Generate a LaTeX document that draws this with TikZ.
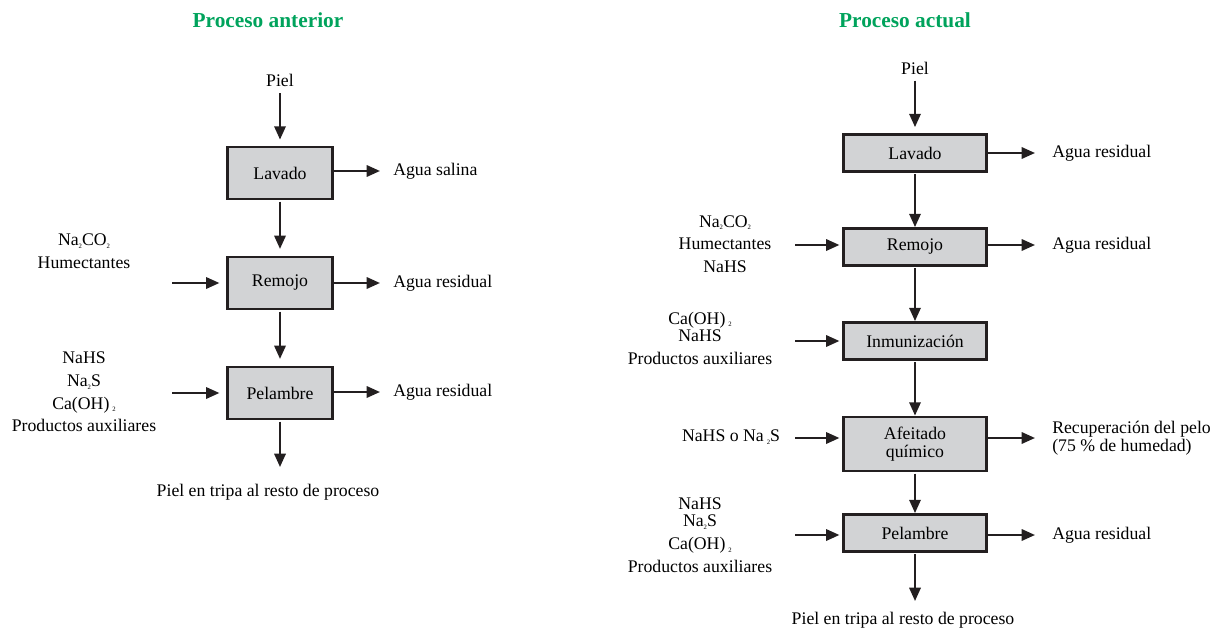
\documentclass[tikz,border=0pt]{standalone}
\usepackage{fontspec}
\setmainfont{Liberation Serif}
\usepackage{tikz}
\usetikzlibrary{positioning, arrows.meta}
\definecolor{titlegreen}{RGB}{0,163,92}
\definecolor{boxgray}{RGB}{210,211,213}
\definecolor{linegray}{RGB}{35,31,32}
\newcommand{\chemsub}[1]{\raisebox{-0.35ex}{\fontsize{5}{5}\selectfont #1}}

\begin{document}
\begin{tikzpicture}[x=0.75pt, y=-0.75pt,
    txt/.style={font=\fontsize{13.3}{17}\selectfont, inner sep=0pt, align=center},
    ttl/.style={font=\fontsize{16}{18}\selectfont\bfseries, text=titlegreen, inner sep=0pt},
    stage/.style={draw=linegray, fill=boxgray, line width=2.1pt, font=\fontsize{13.3}{15}\selectfont, align=center, inner sep=0pt},
    stageA/.style={stage, minimum width=78.75pt, minimum height=39pt},
    stageB/.style={stage, minimum width=107.25pt, minimum height=27.75pt},
    flow/.style={draw=linegray, line width=1.7pt, -{Triangle[length=10pt, width=8.5pt]}}]

    \useasboundingbox (0,0) rectangle (1213,631);

    % proceso anterior
    \node[ttl] (titA) at (268,20) {Proceso anterior};
    \node[txt] (pielA) at (280,80) {Piel};
    \node[stageA] (lavA) at (280,173) {Lavado};
    \node[stageA] (remA) at (280,283) {Remojo};
    \node[stageA] (pelA) at (280,393) {Pelambre};
    \node[txt, anchor=west] (salA) at (393,171) {Agua salina};
    \node[txt, anchor=west] (resA1) at (393,283) {Agua residual};
    \node[txt, anchor=west] (resA2) at (393,392) {Agua residual};
    \node[txt] (chemA1) at (84,251) {Na\chemsub{2}CO\chemsub{2}\\Humectantes};
    \node[txt] (chemA2) at (84,392) {NaHS\\Na\chemsub{2}S\\Ca(OH)\,\chemsub{2}\\Productos auxiliares};
    \node[txt] (tripaA) at (268,492) {Piel en tripa al resto de proceso};
    \coordinate (inA1) at (172,283);
    \coordinate (inA2) at (172,393);

    \draw[flow, shorten <=5pt, shorten >=4.5pt] (pielA) -- (lavA);
    \draw[flow, shorten <=1pt, shorten >=5pt] (lavA) -- (remA);
    \draw[flow, shorten <=1pt, shorten >=5pt] (remA) -- (pelA);
    \draw[flow, shorten <=1pt, shorten >=12.5pt] (pelA.south) -- (pelA.south |- tripaA.north);
    \draw[flow, shorten >=5pt] (inA1) -- (inA1 -| remA.west);
    \draw[flow, shorten >=5pt] (inA2) -- (inA2 -| pelA.west);
    \draw[flow, shorten >=9.75pt] (lavA.east |- salA.west) -- (salA.west);
    \draw[flow, shorten >=9.75pt] (remA.east |- resA1.west) -- (resA1.west);
    \draw[flow, shorten >=9.75pt] (pelA.east |- resA2.west) -- (resA2.west);

    % proceso actual
    \node[ttl] (titB) at (905,20) {Proceso actual};
    \node[txt] (pielB) at (915,68) {Piel};
    \node[stageB] (lavB) at (915,153) {Lavado};
    \node[stageB] (remB) at (915,247) {Remojo};
    \node[stageB] (inmB) at (915,341) {Inmunización};
    \node[stageB, minimum height=40.5pt] (afeB) at (915,444) {Afeitado\\[-2pt]químico};
    \node[stageB] (pelB) at (915,533) {Pelambre};
    \node[txt, anchor=west] (resB1) at (1052,153) {Agua residual};
    \node[txt, anchor=west] (resB2) at (1052,245) {Agua residual};
    \node[txt, anchor=west, align=left] (peloB) at (1052,438) {Recuperación del pelo\\[-3.5pt](75 \% de humedad)};
    \node[txt, anchor=west] (resB3) at (1052,535) {Agua residual};
    \node[txt] (chemB1) at (725,244) {Na\chemsub{2}CO\chemsub{2}\\Humectantes\\NaHS};
    \node[txt] (chemB2) at (700,338) {Ca(OH)\,\chemsub{2}\\[-4pt]NaHS\\Productos auxiliares};
    \node[txt] (chemB3) at (731,437) {NaHS o Na\,\chemsub{2}S};
    \node[txt] (chemB4) at (700,535) {NaHS\\[-4pt]Na\chemsub{2}S\\Ca(OH)\,\chemsub{2}\\Productos auxiliares};
    \node[txt] (tripaB) at (903,620) {Piel en tripa al resto de proceso};
    \coordinate (inB1) at (795,245);
    \coordinate (inB2) at (795,341);
    \coordinate (inB3) at (795,438);
    \coordinate (inB4) at (795,535);

    \draw[flow, shorten <=4.5pt, shorten >=4.5pt] (pielB) -- (lavB);
    \draw[flow, shorten <=1pt] (lavB) -- (remB);
    \draw[flow, shorten <=1pt] (remB) -- (inmB);
    \draw[flow, shorten <=1pt] (inmB) -- (afeB);
    \draw[flow, shorten <=1pt] (afeB) -- (pelB);
    \draw[flow, shorten <=1pt, shorten >=8pt] (pelB.south) -- (pelB.south |- tripaB.north);
    \draw[flow, shorten >=2pt] (inB1) -- (inB1 -| remB.west);
    \draw[flow, shorten >=2pt] (inB2) -- (inB2 -| inmB.west);
    \draw[flow, shorten >=2pt] (inB3) -- (inB3 -| afeB.west);
    \draw[flow, shorten >=2pt] (inB4) -- (inB4 -| pelB.west);
    \draw[flow, shorten >=12.75pt] (lavB.east |- resB1.west) -- (resB1.west);
    \draw[flow, shorten >=12.75pt] (remB.east |- resB2.west) -- (resB2.west);
    \draw[flow, shorten >=12.75pt] (afeB.east |- peloB.west) -- (peloB.west);
    \draw[flow, shorten >=12.75pt] (pelB.east |- resB3.west) -- (resB3.west);
\end{tikzpicture}
\end{document}
